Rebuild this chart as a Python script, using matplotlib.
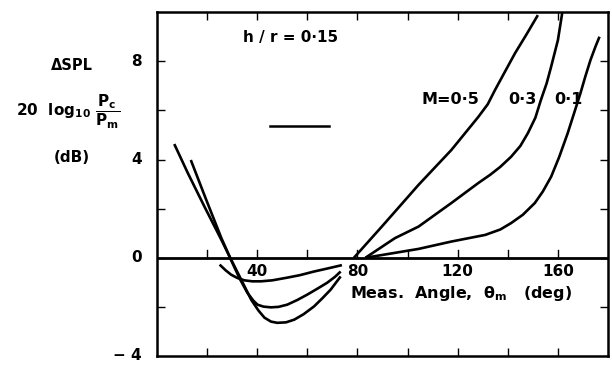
import numpy as np
import matplotlib
matplotlib.use("Agg")
import matplotlib.pyplot as plt

plt.rcParams['font.family'] = ['DejaVu Sans']
plt.rcParams['font.weight'] = 'bold'
plt.rcParams['mathtext.fontset'] = 'dejavusans'

# right branches (theta > 80 deg)
x_m05 = [78.6, 90, 104.4, 117.5, 128.2, 132, 134.9, 139, 142.9, 147.5, 152]
y_m05 = [0, 1.3, 2.97, 4.39, 5.73, 6.25, 6.83, 7.6, 8.33, 9.1, 9.88]

x_m03 = [83.2, 95, 104.4, 117.5, 128.2, 133, 137, 141.3, 145, 148, 151, 153.2, 155.5, 157.3, 160, 162.2]
y_m03 = [0, 0.8, 1.27, 2.23, 3.04, 3.38, 3.7, 4.11, 4.55, 5.07, 5.7, 6.42, 7.1, 7.78, 8.86, 10.28]

x_m01 = [83.2, 95, 104.4, 117.5, 131, 137, 141.3, 146, 150.8, 154, 157.3, 160.5, 163.9, 166.5, 169, 171, 173, 175, 176.6]
y_m01 = [0, 0.2, 0.36, 0.66, 0.93, 1.15, 1.41, 1.75, 2.23, 2.7, 3.3, 4.1, 5.07, 5.9, 6.7, 7.4, 8.05, 8.6, 9.0]

# left branches (theta < 80 deg)
x_low_a = [6.9, 12.3, 19, 25.7, 29.6, 33.6, 37.6, 40.5, 42.9, 45.5, 48, 51.5, 54.8, 58.5, 62.7, 66, 69.3, 73.3]
y_low_a = [4.63, 3.45, 2.07, 0.73, -0.08, -0.89, -1.71, -2.15, -2.44, -2.6, -2.65, -2.63, -2.52, -2.3, -1.98, -1.65, -1.30, -0.76]

x_low_b = [13.5, 19.5, 25.7, 29.6, 33, 36.1, 38.5, 40.1, 42.5, 45.5, 48.5, 52, 56, 60, 64, 67.9, 71, 73.3]
y_low_b = [3.98, 2.4, 0.8, -0.1, -0.85, -1.43, -1.75, -1.91, -1.99, -2.02, -2.0, -1.91, -1.72, -1.5, -1.26, -1.02, -0.78, -0.56]

x_low_c = [25, 27.5, 29.6, 32, 34.9, 38, 41.5, 46, 52, 57, 62.7, 67.5, 72.6, 73.8]
y_low_c = [-0.28, -0.52, -0.69, -0.82, -0.92, -0.96, -0.96, -0.92, -0.81, -0.71, -0.56, -0.45, -0.33, -0.3]

x_labels = [40, 80, 120, 160]
y_labels = [-4, 0, 4, 8]
mach_labels = ['M=0·5', '0·3', '0·1']

fig = plt.figure(figsize=(6.12, 3.65), dpi=100)
ax = fig.add_axes([0.2565, 0.0247, 0.737, 0.942])
ax.set_xlim(0, 180)
ax.set_ylim(-4, 10)

lw = 1.9
for xs, ys in [(x_m05, y_m05), (x_m03, y_m03), (x_m01, y_m01),
               (x_low_a, y_low_a), (x_low_b, y_low_b), (x_low_c, y_low_c)]:
    ax.plot(xs, ys, color='black', lw=lw, solid_capstyle='butt',
            solid_joinstyle='round')

# zero line with small upward ticks
ax.axhline(0, color='black', lw=2.0)
for xt in range(20, 180, 20):
    ax.plot([xt, xt], [0, 0.3], color='black', lw=1.0)

for s in ax.spines.values():
    s.set_linewidth(1.8)

ax.set_xticks(range(20, 180, 20))
ax.set_yticks(range(-2, 10, 2))
ax.tick_params(direction='in', length=6, width=1.0, top=True, right=True,
               labelbottom=False, labelleft=False)

# tick labels drawn as text, like in the original figure
for xv in x_labels:
    ax.text(xv, -0.55, str(xv), ha='center', va='center', fontsize=11)
for yv in y_labels:
    lab = '\u2212 4' if yv < 0 else str(yv)
    ax.text(-6, yv, lab, ha='right', va='center', fontsize=11, clip_on=False)

ax.text(121.5, -1.45, r'Meas.  Angle,  $\mathbf{\theta_m}$   (deg)', ha='center',
        va='center', fontsize=11.5)
ax.text(53.5, 8.95, 'h / r = 0·15', ha='center', va='center', fontsize=11)
for xf, lab in zip([0.65, 0.81, 0.913], mach_labels):
    ax.text(xf, 0.745, lab, transform=ax.transAxes, ha='center', va='center',
            fontsize=11.5)

# short stray line segment in the original
ax.plot([45, 68.7], [5.37, 5.37], color='black', lw=1.8)

# y-axis label block
fig.text(72 / 612, 1 - 66 / 365, '\u0394SPL', ha='center', va='center', fontsize=10.5)
fig.text(68 / 612, 1 - 112 / 365, r'$\mathbf{20\ \ log_{10}\ \dfrac{P_c}{P_m}}$',
         ha='center', va='center', fontsize=11)
fig.text(72 / 612, 1 - 157 / 365, '(dB)', ha='center', va='center', fontsize=11)

fig.savefig('out.png', dpi=100)
